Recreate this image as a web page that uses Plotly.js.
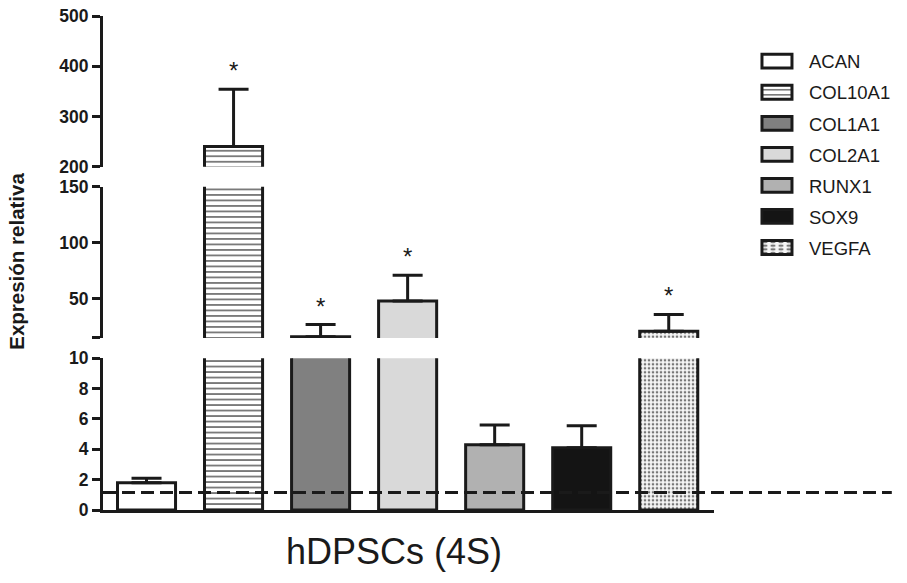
<!DOCTYPE html>
<html><head><meta charset="utf-8">
<script src="https://cdn.plot.ly/plotly-3.0.1.min.js"></script>
<style>body{margin:0;background:#fff}</style>
</head><body><div id="chart" style="width:907px;height:583px"></div>
<script>
// ---- data ----
const categories = ['ACAN', 'COL10A1', 'COL1A1', 'COL2A1', 'RUNX1', 'SOX9', 'VEGFA'];
const means = [1.8, 240, 16, 48, 4.3, 4.1, 21];
const sems = [0.3, 114, 11, 23, 1.3, 1.45, 15];
const stars = ['', '*', '*', '*', '', '', '*'];
const baselineValue = 1.15;
const bottomTickVals = [0, 2, 4, 6, 8, 10];
const middleTickVals = [15, 50, 100, 150];
const middleTickText = ['', '50', '100', '150'];
const topTickVals = [200, 300, 400, 500];
const xTitle = 'hDPSCs (4S)';
const yTitle = 'Expresión relativa';

// ---- styles ----
const ink = '#1a1a1a';
const fills = ['#ffffff', '#ffffff', '#808080', '#d9d9d9', '#b1b1b1', '#141414', '#f4f4f4'];
const patterns = [null, {shape: '-', fgcolor: '#222', bgcolor: '#ffffff', size: 5.5, solidity: 0.2}, null, null, null, null,
  {shape: '.', fgcolor: '#777', bgcolor: '#f6f6f6', size: 4, solidity: 0.35}];
const segments = [
  {axis: 'y', key: 'yaxis', domain: [0, 0.3071], range: [0, 10], tickvals: bottomTickVals, ticktext: bottomTickVals.map(String)},
  {axis: 'y2', key: 'yaxis2', domain: [0.3482, 0.6545], range: [15, 150], tickvals: middleTickVals, ticktext: middleTickText},
  {axis: 'y3', key: 'yaxis3', domain: [0.6949, 1], range: [200, 500], tickvals: topTickVals, ticktext: topTickVals.map(String)}
];

const traces = [];
segments.forEach((seg, s) => {
  categories.forEach((cat, i) => {
    const marker = {color: fills[i], line: {color: ink, width: 3}};
    if (patterns[i]) marker.pattern = patterns[i];
    traces.push({
      type: 'bar', x: [i], y: [means[i]], yaxis: seg.axis, width: 0.667,
      name: cat, legendgroup: cat, showlegend: s === 0, hoverinfo: 'skip',
      marker: marker,
      error_y: {type: 'data', symmetric: false, array: [sems[i]], arrayminus: [0], color: ink, thickness: 3, width: 15}
    });
  });
});

const font = {family: 'Arial, "Liberation Sans", sans-serif', color: ink};
const layout = {
  width: 907, height: 583,
  margin: {l: 103, r: 192, t: 16, b: 73},
  paper_bgcolor: '#ffffff', plot_bgcolor: 'rgba(0,0,0,0)',
  font: font, barmode: 'overlay', showlegend: true,
  xaxis: {range: [-0.5, 6.52], showline: true, linewidth: 3, linecolor: ink, ticks: '', showticklabels: false,
    showgrid: false, zeroline: false, fixedrange: true},
  legend: {x: 1.0882, xanchor: 'left', y: 0.946, yanchor: 'top', font: {size: 18.5, color: ink},
    tracegroupgap: 4, bgcolor: 'rgba(0,0,0,0)'},
  annotations: [],
  shapes: [{type: 'line', xref: 'paper', x0: 0, x1: 1.291, yref: 'y', y0: baselineValue, y1: baselineValue,
    line: {color: ink, width: 3, dash: '13px,6px'}, layer: 'above'}]
};
segments.forEach(seg => {
  layout[seg.key] = {domain: seg.domain, range: seg.range, anchor: 'x', showline: true, linewidth: 3, linecolor: ink,
    ticks: 'outside', ticklen: 8, tickwidth: 3, tickcolor: ink, tickvals: seg.tickvals, ticktext: seg.ticktext,
    tickfont: {size: 17.5, weight: 'bold', color: ink}, showgrid: false, zeroline: false, fixedrange: true};
});
// significance stars
categories.forEach((cat, i) => {
  if (!stars[i]) return;
  const top = means[i] + sems[i];
  const seg = segments.find(sg => top >= sg.range[0] && top <= sg.range[1]) || segments[2];
  layout.annotations.push({xref: 'x', yref: seg.axis, x: i, y: top, text: stars[i], showarrow: false,
    yanchor: 'bottom', yshift: 3, font: {size: 24, color: ink}});
});
// y title spanning the broken axis
layout.annotations.push({xref: 'paper', yref: 'paper', x: -0.142, y: 0.503, xanchor: 'center', yanchor: 'middle',
  text: yTitle, textangle: -90, showarrow: false, font: {size: 20.5, weight: 'bold', color: ink}});
// x title
layout.annotations.push({xref: 'paper', yref: 'paper', x: 0.477, y: -0.085, xanchor: 'center', yanchor: 'middle',
  text: xTitle, showarrow: false, font: {size: 36, color: ink}});

Plotly.newPlot('chart', traces, layout, {displayModeBar: false, staticPlot: true}).then(gd => {
  // widen legend swatches to the rectangles of the original
  const box = gd.querySelector('.legend .scrollbox');
  if (box) box.removeAttribute('clip-path');
  gd.querySelectorAll('.legend .legendpoints path').forEach(p => {
    const t = p.getAttribute('transform') || '';
    p.setAttribute('transform', t + ' translate(-12,0) scale(2.5,1.15)');
    p.style.vectorEffect = 'non-scaling-stroke';
    p.style.strokeWidth = '3px';
  });
});
</script>
</body></html>
